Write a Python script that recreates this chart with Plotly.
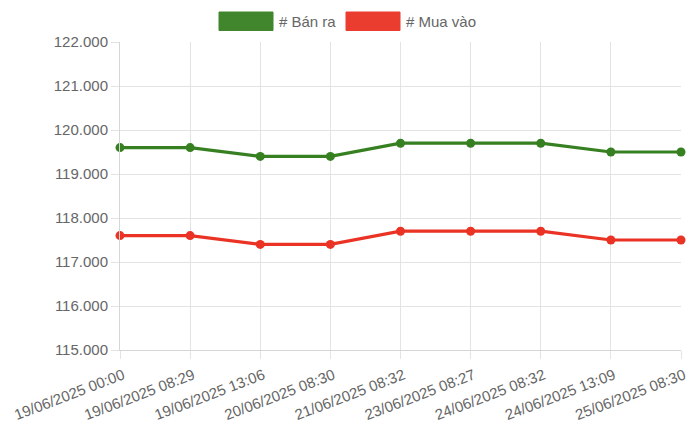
import plotly.graph_objects as go

# du lieu gia vang
thoiGian = ["19/06/2025 00:00", "19/06/2025 08:29", "19/06/2025 13:06", "20/06/2025 08:30",
            "21/06/2025 08:32", "23/06/2025 08:27", "24/06/2025 08:32", "24/06/2025 13:09",
            "25/06/2025 08:30"]
banRa = [119600, 119600, 119400, 119400, 119700, 119700, 119700, 119500, 119500]
muaVao = [117600, 117600, 117400, 117400, 117700, 117700, 117700, 117500, 117500]
tenSeries = ["# Bán ra", "# Mua vào"]
yTicks = [115000, 116000, 117000, 118000, 119000, 120000, 121000, 122000]

xanh = "#378022"
do = "#ea3324"
luoi = "#e3e3e3"

fig = go.Figure()
fig.add_trace(go.Scatter(x=thoiGian, y=banRa, name=tenSeries[0], mode="lines+markers",
                         line=dict(color=xanh, width=3.2), marker=dict(color=xanh, size=9),
                         cliponaxis=False, showlegend=False))
fig.add_trace(go.Scatter(x=thoiGian, y=muaVao, name=tenSeries[1], mode="lines+markers",
                         line=dict(color=do, width=3.2), marker=dict(color=do, size=9),
                         cliponaxis=False, showlegend=False))

# legend kieu chart.js (hop chu nhat)
for i, (ten, mau) in enumerate(zip(tenSeries, [xanh, do])):
    x0 = [219, 346][i]
    fig.add_shape(type="rect", xref="paper", yref="paper",
                  x0=(x0 - 120) / 561, x1=(x0 + 54 - 120) / 561,
                  y0=(350 - 30.5) / 308, y1=(350 - 12) / 308,
                  fillcolor=mau, line=dict(color=mau, width=1), opacity=0.95)
    fig.add_annotation(xref="paper", yref="paper", x=(x0 + 58 - 120) / 561,
                       y=(350 - 21) / 308, text=ten, showarrow=False,
                       xanchor="left", yanchor="middle",
                       font=dict(size=15, color="#666666"))

# trang html co margin 8px cua body nen bu lai
fig.update_layout(
    width=700, height=433,
    margin=dict(l=112, r=27, t=34, b=91),
    plot_bgcolor="white", paper_bgcolor="white",
    font=dict(family="Liberation Sans, Arial, sans-serif", size=15, color="#666666"),
    separators=",.",
)
fig.update_xaxes(type="category", range=[0, len(thoiGian) - 1], tickangle=-21,
                 automargin=False, ticklabelstandoff=2, ticklabelshift=3,
                 showgrid=True, gridcolor=luoi, gridwidth=1,
                 ticks="outside", ticklen=8, tickcolor=luoi,
                 showline=True, linecolor="#d6d6d6", zeroline=False)
fig.update_yaxes(range=[115000, 122000], tickvals=yTicks, tickformat=",.0f",
                 automargin=False,
                 showgrid=True, gridcolor=luoi, gridwidth=1,
                 ticks="outside", ticklen=8, tickcolor=luoi,
                 showline=True, linecolor="#d6d6d6", zeroline=False)

fig.write_html("out.html")
